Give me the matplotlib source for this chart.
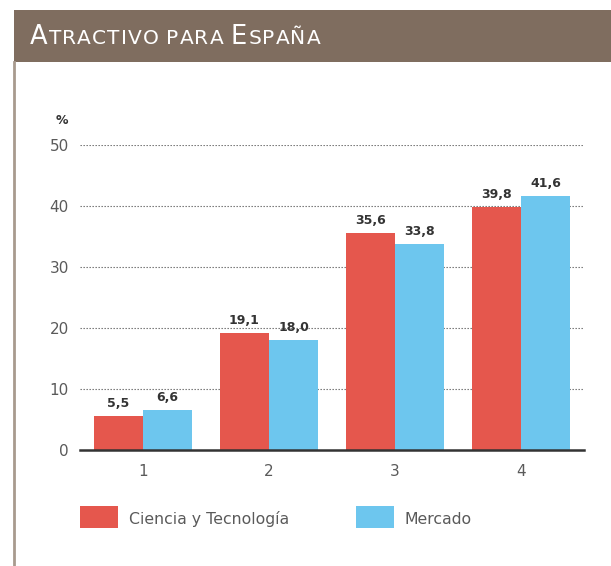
import matplotlib
matplotlib.use("Agg")
import matplotlib.pyplot as plt
from matplotlib.patches import Rectangle
from matplotlib.lines import Line2D
import numpy as np

# data
groups = ["1", "2", "3", "4"]
ciencia = [5.5, 19.1, 35.6, 39.8]
mercado = [6.6, 18.0, 33.8, 41.6]
series_names = ["Ciencia y Tecnología", "Mercado"]
yticks = [0, 10, 20, 30, 40, 50]

red = "#E5574D"
blue = "#6DC6EE"
brown = "#7F6D5F"
W, H = 611, 566

fig = plt.figure(figsize=(W / 100, H / 100), dpi=100)
fig.patch.set_facecolor("white")

# header band and left border
fig.patches.append(Rectangle((14 / W, 1 - 62 / H), 1 - 14 / W, 52 / H,
                             transform=fig.transFigure, facecolor=brown,
                             edgecolor="none"))
fig.lines.append(Line2D([14 / W, 14 / W], [0, 1 - 62 / H], transform=fig.transFigure,
                        color="#A89A8E", linewidth=2))

# small caps title, one char at a time with a bit of tracking
renderer = fig.canvas.get_renderer()
pieces = [("A", 18.5), ("TRACTIVO PARA ", 14.5), ("E", 18.5), ("SPAÑA", 14.5)]
x = 30
for s, size in pieces:
    for ch in s:
        t = fig.text(x / W, 1 - 44 / H, ch, fontsize=size, color="white",
                     family="DejaVu Sans", va="baseline", ha="left")
        if ch == " ":
            x += size * 0.45
        else:
            x += t.get_window_extent(renderer).width + 1.1

ax = fig.add_axes([80 / W, 1 - 450 / H, 504 / W, 305 / H])
pos = np.arange(1, len(groups) + 1)
bw = 0.39
ax.bar(pos - bw / 2, ciencia, bw, color=red, label=series_names[0], zorder=2)
ax.bar(pos + bw / 2, mercado, bw, color=blue, label=series_names[1], zorder=2)

for p, v in zip(pos - bw / 2, ciencia):
    ax.text(p, v + 1.0, f"{v:.1f}".replace(".", ","), ha="center", va="bottom",
            fontsize=9, fontweight="bold", color="#333333")
for p, v in zip(pos + bw / 2, mercado):
    ax.text(p, v + 1.0, f"{v:.1f}".replace(".", ","), ha="center", va="bottom",
            fontsize=9, fontweight="bold", color="#333333")

ax.set_xlim(0.5, 4.5)
ax.set_ylim(0, 50)
ax.set_yticks(yticks)
ax.set_xticks(pos)
ax.set_xticklabels(groups)
for y in yticks[1:]:
    ax.axhline(y, color="#666666", linestyle=(0, (1.2, 1.5)), linewidth=0.8, zorder=1)
for s in ["top", "right", "left"]:
    ax.spines[s].set_visible(False)
ax.spines["bottom"].set_color("#333333")
ax.spines["bottom"].set_linewidth(1.8)
ax.spines["bottom"].set_zorder(3)
ax.tick_params(axis="both", length=0, labelsize=11, labelcolor="#5a5a5a")
ax.tick_params(axis="y", pad=8)
ax.tick_params(axis="x", pad=10)
ax.text(-0.035, 1.08, "%", transform=ax.transAxes, fontsize=9, fontweight="bold",
        color="#333333", ha="center", va="center")

# legend drawn by hand in figure coords
leg_items = [(80, red, series_names[0]), (356, blue, series_names[1])]
for lx, c, name in leg_items:
    fig.patches.append(Rectangle((lx / W, 1 - 528 / H), 38 / W, 22 / H,
                                 transform=fig.transFigure, facecolor=c,
                                 edgecolor="none"))
    fig.text((lx + 49) / W, 1 - 519 / H, name, fontsize=11.3, color="#5a5a5a",
             va="center", ha="left")

fig.savefig("out.png", dpi=100)
